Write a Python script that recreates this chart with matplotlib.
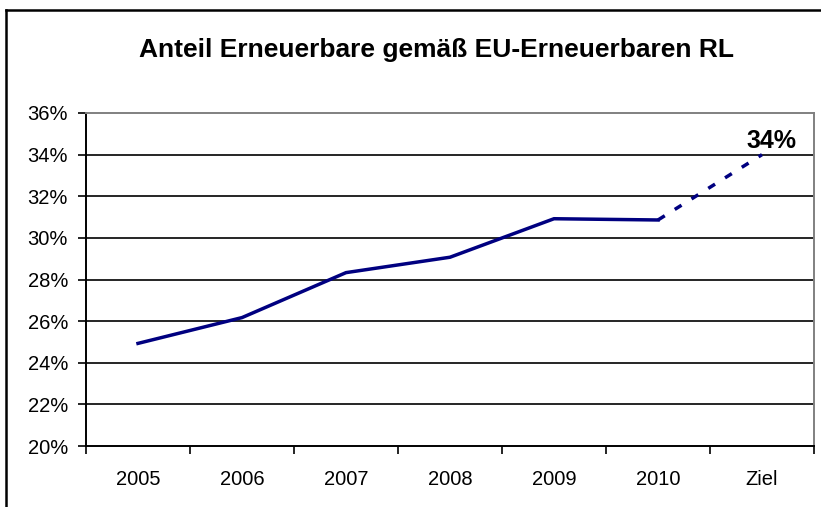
import matplotlib.pyplot as plt
from matplotlib.lines import Line2D
from matplotlib.ticker import FuncFormatter

# data
categories = ["2005", "2006", "2007", "2008", "2009", "2010", "Ziel"]
share = [24.93, 26.17, 28.33, 29.07, 30.92, 30.86, 34.0]
target_label = "34%"
title = "Anteil Erneuerbare gemäß EU-Erneuerbaren RL"

navy = "#000080"
plt.rcParams['font.family'] = ['Liberation Sans', 'DejaVu Sans']

W, H = 821, 507
fig = plt.figure(figsize=(W / 100, H / 100), dpi=100)
ax = fig.add_axes([86 / W, 1 - 446 / H, (814 - 86) / W, (446 - 113) / H])

x = list(range(len(categories)))
# measured part solid, path to target dashed
ax.plot(x[:-1], share[:-1], color=navy, lw=2.5, solid_joinstyle='miter', zorder=3)
ax.plot(x[-2:], share[-2:], color=navy, lw=2.5, ls=(0, (2.3, 3.4)), zorder=3)

ax.annotate(target_label, (x[-1], share[-1]), xytext=(7, 4.5), textcoords='offset points',
            ha='center', va='baseline', fontsize=18, fontweight='bold')

ax.set_xlim(-0.5, len(categories) - 0.5)
ax.set_ylim(20, 36)
ax.set_yticks(range(20, 37, 2))
ax.yaxis.set_major_formatter(FuncFormatter(lambda v, p: f"{v:.0f}%"))
for g in range(22, 36, 2):
    ax.axhline(g, color='black', lw=1.2, zorder=1)

ax.set_xticks(x)
ax.set_xticklabels(categories)
ax.set_xticks([i - 0.5 for i in range(len(categories) + 1)], minor=True)
ax.tick_params(axis='x', which='major', length=0, pad=17, labelsize=14.5)
ax.tick_params(axis='x', which='minor', length=6, width=1.2, direction='out')
ax.tick_params(axis='y', length=6, width=1.2, pad=7, labelsize=14.5)

for s in ['left', 'bottom']:
    ax.spines[s].set_color('black')
    ax.spines[s].set_linewidth(1.4)
for s in ['top', 'right']:
    ax.spines[s].set_color('#808080')
    ax.spines[s].set_linewidth(1.4)

fig.text(436 / W, 1 - 50 / H, title, ha='center', va='center', fontsize=19, fontweight='bold')

# outer chart frame (only top and left edges visible in the crop)
fig.add_artist(Line2D([6 / W, 1.0], [1 - 10 / H, 1 - 10 / H], transform=fig.transFigure, color='black', lw=1.8))
fig.add_artist(Line2D([6 / W, 6 / W], [0.0, 1 - 10 / H], transform=fig.transFigure, color='black', lw=1.8))

fig.savefig("out.png", dpi=100)
